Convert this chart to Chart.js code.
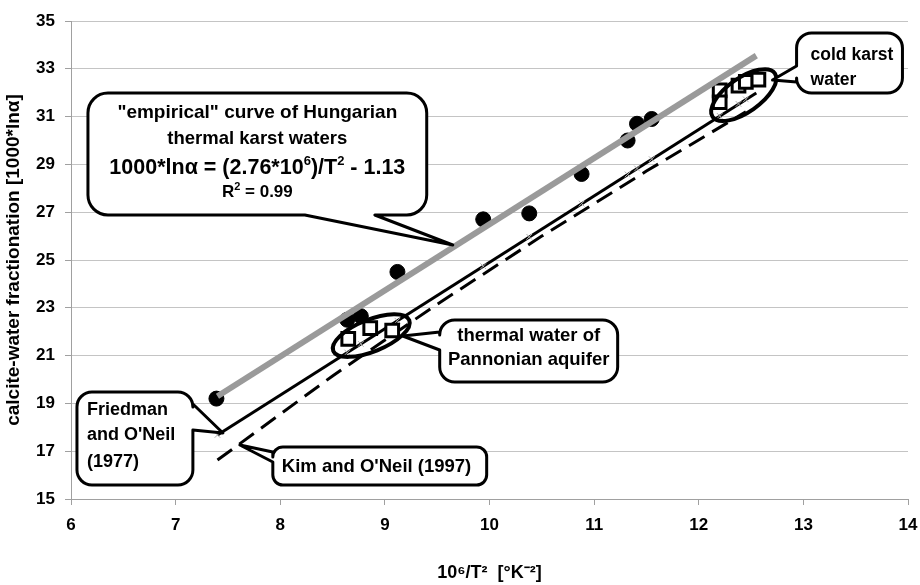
<!DOCTYPE html>
<html>
<head>
<meta charset="utf-8">
<script src="https://cdn.jsdelivr.net/npm/chart.js@4.4.1/dist/chart.umd.min.js"></script>
<style>
html, body { margin: 0; padding: 0; background: #fff; }
</style>
</head>
<body>
<canvas id="grafico" width="920" height="585"></canvas>
<script>
// thermal karst waters (filled circles)
var karstX = [7.39, 8.64, 8.77, 9.12, 9.94, 10.38, 10.88, 11.32, 11.41, 11.55];
var karstY = [19.2, 22.5, 22.65, 24.5, 26.7, 26.95, 28.6, 30.0, 30.7, 30.9];
// Pannonian aquifer + cold karst water (open squares)
var squareX = [8.65, 8.86, 9.07, 12.2, 12.2, 12.38, 12.45, 12.57];
var squareY = [21.7, 22.15, 22.05, 32.1, 31.6, 32.3, 32.45, 32.55];
// small grey marks on the Friedman & O'Neil line
var markX = [7.4, 8.64, 8.77, 9.12, 9.94, 10.38, 10.88, 11.32, 11.41, 11.55, 12.2, 12.38, 12.45];
var markY = [17.68, 21.13, 21.49, 22.46, 24.74, 25.97, 27.36, 28.58, 28.83, 29.22, 31.03, 31.53, 31.72];
// lines
var empiricalX = [7.4, 12.55];
var empiricalY = [19.3, 33.55];
var friedmanX = [7.4, 12.55];
var friedmanY = [17.68, 31.99];
var kimX = [7.4, 8.5, 9.5, 10.5, 11.5, 12.45];
var kimY = [16.63, 20.15, 23.15, 26.0, 28.72, 31.2];
// ticks
var xTicks = [6, 7, 8, 9, 10, 11, 12, 13, 14];
var yTicks = [15, 17, 19, 21, 23, 25, 27, 29, 31, 33, 35];

var FONT = '"Liberation Sans", Arial, sans-serif';

function pares(xs, ys) {
    return xs.map(function (x, i) { return { x: x, y: ys[i] }; });
}

// callouts, boxes and tips in data units
var balloons = [
    {
        box: [6.162, 31.987, 9.40, 26.883], r: 20, side: 'bottom', base: [8.235, 8.904], tip: [9.649, 25.628],
        lines: [
            { dy: 20, size: 19, parts: [{ t: '"empirical" curve of Hungarian' }] },
            { dy: 46, size: 18.5, parts: [{ t: 'thermal karst waters' }] },
            { dy: 75, size: 21.5, parts: [{ t: '1000*ln\u03b1 = (2.76*10' }, { t: '6', sup: true }, { t: ')/T' }, { t: '2', sup: true }, { t: ' - 1.13' }] },
            { dy: 99, size: 17, parts: [{ t: 'R' }, { t: '2', sup: true }, { t: ' = 0.99' }] }
        ]
    },
    {
        box: [12.935, 34.498, 13.947, 31.987], r: 15, side: 'left', base: [33.117, 32.448], tip: [12.705, 32.531],
        align: 'left', dx: 14,
        lines: [
            { dy: 22, size: 17.5, parts: [{ t: 'cold karst' }] },
            { dy: 47, size: 17.5, parts: [{ t: 'water' }] }
        ]
    },
    {
        box: [9.524, 22.49, 11.225, 19.897], r: 15, side: 'left', base: [21.987, 21.234], tip: [9.171, 21.82],
        lines: [
            { dy: 16, size: 18.5, parts: [{ t: 'thermal water of' }] },
            { dy: 40, size: 18.5, parts: [{ t: 'Pannonian aquifer' }] }
        ]
    },
    {
        box: [6.057, 19.477, 7.165, 15.586], r: 15, side: 'right', base: [18.975, 17.887], tip: [7.452, 17.762],
        align: 'left', dx: 10,
        lines: [
            { dy: 18, size: 18, parts: [{ t: 'Friedman' }] },
            { dy: 43, size: 18, parts: [{ t: "and O'Neil" }] },
            { dy: 70, size: 18, parts: [{ t: '(1977)' }] }
        ]
    },
    {
        box: [7.929, 17.176, 9.973, 15.586], r: 10, side: 'left', base: [16.967, 16.548], tip: [7.614, 17.259],
        align: 'left', dx: 9,
        lines: [
            { dy: 20, size: 18.5, parts: [{ t: "Kim and O'Neil (1997)" }] }
        ]
    }
];

// ellipses round the sample groups (centre in data units)
var elipses = [
    { c: [8.87, 21.84], a: 41, b: 16, rot: -22 },
    { c: [12.43, 31.9], a: 38, b: 17, rot: -35 }
];

function balaoPath(ctx, x1, y1, x2, y2, r, side, b1, b2, tx, ty) {
    var lo = Math.min(b1, b2), hi = Math.max(b1, b2);
    ctx.beginPath();
    ctx.moveTo(x1 + r, y1);
    if (side === 'top') { ctx.lineTo(lo, y1); ctx.lineTo(tx, ty); ctx.lineTo(hi, y1); }
    ctx.lineTo(x2 - r, y1);
    ctx.arcTo(x2, y1, x2, y1 + r, r);
    if (side === 'right') { ctx.lineTo(x2, lo); ctx.lineTo(tx, ty); ctx.lineTo(x2, hi); }
    ctx.lineTo(x2, y2 - r);
    ctx.arcTo(x2, y2, x2 - r, y2, r);
    if (side === 'bottom') { ctx.lineTo(hi, y2); ctx.lineTo(tx, ty); ctx.lineTo(lo, y2); }
    ctx.lineTo(x1 + r, y2);
    ctx.arcTo(x1, y2, x1, y2 - r, r);
    if (side === 'left') { ctx.lineTo(x1, hi); ctx.lineTo(tx, ty); ctx.lineTo(x1, lo); }
    ctx.lineTo(x1, y1 + r);
    ctx.arcTo(x1, y1, x1 + r, y1, r);
    ctx.closePath();
}

function textoRico(ctx, line, x, y, align) {
    var big = 'bold ' + line.size + 'px ' + FONT;
    var small = 'bold ' + Math.round(line.size * 0.62) + 'px ' + FONT;
    var total = 0;
    line.parts.forEach(function (p) {
        ctx.font = p.sup ? small : big;
        p.w = ctx.measureText(p.t).width;
        total += p.w;
    });
    var cx = align === 'left' ? x : x - total / 2;
    ctx.textAlign = 'left';
    ctx.textBaseline = 'middle';
    line.parts.forEach(function (p) {
        ctx.font = p.sup ? small : big;
        ctx.fillText(p.t, cx, p.sup ? y - line.size * 0.32 : y);
        cx += p.w;
    });
}

var anotacoes = {
    id: 'anotacoes',
    afterDatasetsDraw: function (chart) {
        var ctx = chart.ctx;
        var xs = chart.scales.x, ys = chart.scales.y;
        ctx.save();
        ctx.strokeStyle = '#000';
        ctx.lineWidth = 4;
        elipses.forEach(function (e) {
            ctx.beginPath();
            ctx.ellipse(xs.getPixelForValue(e.c[0]), ys.getPixelForValue(e.c[1]), e.a, e.b, e.rot * Math.PI / 180, 0, Math.PI * 2);
            ctx.stroke();
        });
        balloons.forEach(function (b) {
            var x1 = xs.getPixelForValue(b.box[0]), y1 = ys.getPixelForValue(b.box[1]);
            var x2 = xs.getPixelForValue(b.box[2]), y2 = ys.getPixelForValue(b.box[3]);
            var sc = (b.side === 'top' || b.side === 'bottom') ? xs : ys;
            var b1 = sc.getPixelForValue(b.base[0]), b2 = sc.getPixelForValue(b.base[1]);
            var tx = xs.getPixelForValue(b.tip[0]), ty = ys.getPixelForValue(b.tip[1]);
            balaoPath(ctx, x1, y1, x2, y2, b.r, b.side, b1, b2, tx, ty);
            ctx.fillStyle = '#fff';
            ctx.fill();
            ctx.lineWidth = 3;
            ctx.lineJoin = 'round';
            ctx.strokeStyle = '#000';
            ctx.stroke();
            ctx.fillStyle = '#000';
            b.lines.forEach(function (l) {
                var px = b.align === 'left' ? x1 + b.dx : (x1 + x2) / 2;
                textoRico(ctx, l, px, y1 + l.dy, b.align);
            });
        });
        ctx.restore();
    }
};

var ctx = document.getElementById('grafico').getContext('2d');
window.grafico = new Chart(ctx, {
    type: 'scatter',
    data: {
        datasets: [
            {
                label: 'empirical',
                data: pares(empiricalX, empiricalY),
                showLine: true,
                borderColor: '#9a9a9a',
                borderWidth: 6,
                pointRadius: 0,
                order: 0
            },
            {
                label: 'thermal karst waters',
                data: pares(karstX, karstY),
                backgroundColor: '#000',
                borderColor: '#000',
                pointRadius: 7.5,
                order: 1
            },
            {
                label: 'Pannonian / cold karst',
                data: pares(squareX, squareY),
                pointStyle: 'rect',
                backgroundColor: '#fff',
                borderColor: '#000',
                borderWidth: 3,
                pointRadius: 9,
                order: 2
            },
            {
                label: 'marks',
                data: pares(markX, markY),
                pointStyle: 'crossRot',
                borderColor: '#b0b0b0',
                borderWidth: 1,
                pointRadius: 4,
                order: 3
            },
            {
                label: "Friedman and O'Neil (1977)",
                data: pares(friedmanX, friedmanY),
                showLine: true,
                borderColor: '#000',
                borderWidth: 3,
                pointRadius: 0,
                order: 4
            },
            {
                label: "Kim and O'Neil (1997)",
                data: pares(kimX, kimY),
                showLine: true,
                borderColor: '#000',
                borderWidth: 3,
                borderDash: [18, 9],
                pointRadius: 0,
                order: 5
            }
        ]
    },
    options: {
        responsive: false,
        animation: false,
        devicePixelRatio: 1,
        layout: { padding: { top: 21, right: 12, left: 0, bottom: 0 } },
        plugins: { legend: { display: false }, tooltip: { enabled: false } },
        scales: {
            x: {
                type: 'linear',
                min: 6, max: 14,
                afterBuildTicks: function (s) { s.ticks = xTicks.map(function (v) { return { value: v }; }); },
                afterFit: function (s) { s.height = 86; s.paddingRight = 12; s.paddingLeft = 0; },
                ticks: { color: '#000', font: { family: FONT, size: 17, weight: 'bold' }, padding: 10, maxRotation: 0 },
                grid: { drawOnChartArea: false, tickLength: 6, color: '#a0a0a0' },
                border: { color: '#a0a0a0' },
                title: {
                    display: true,
                    text: '10\u2076/T\u00b2  [\u00b0K\u207b\u00b2]',
                    color: '#000',
                    font: { family: FONT, size: 18, weight: 'bold' },
                    padding: 1
                }
            },
            y: {
                min: 15, max: 35,
                afterBuildTicks: function (s) { s.ticks = yTicks.map(function (v) { return { value: v }; }); },
                afterFit: function (s) { s.width = 71; },
                ticks: { color: '#000', font: { family: FONT, size: 17, weight: 'bold' }, padding: 10 },
                grid: { color: '#c4c4c4', tickLength: 6, tickColor: '#a0a0a0' },
                border: { color: '#a0a0a0' },
                title: {
                    display: true,
                    text: 'calcite-water fractionation [1000*ln\u03b1]',
                    color: '#000',
                    font: { family: FONT, size: 19, weight: 'bold' },
                    padding: 2
                }
            }
        }
    },
    plugins: [anotacoes]
});
</script>
</body>
</html>
